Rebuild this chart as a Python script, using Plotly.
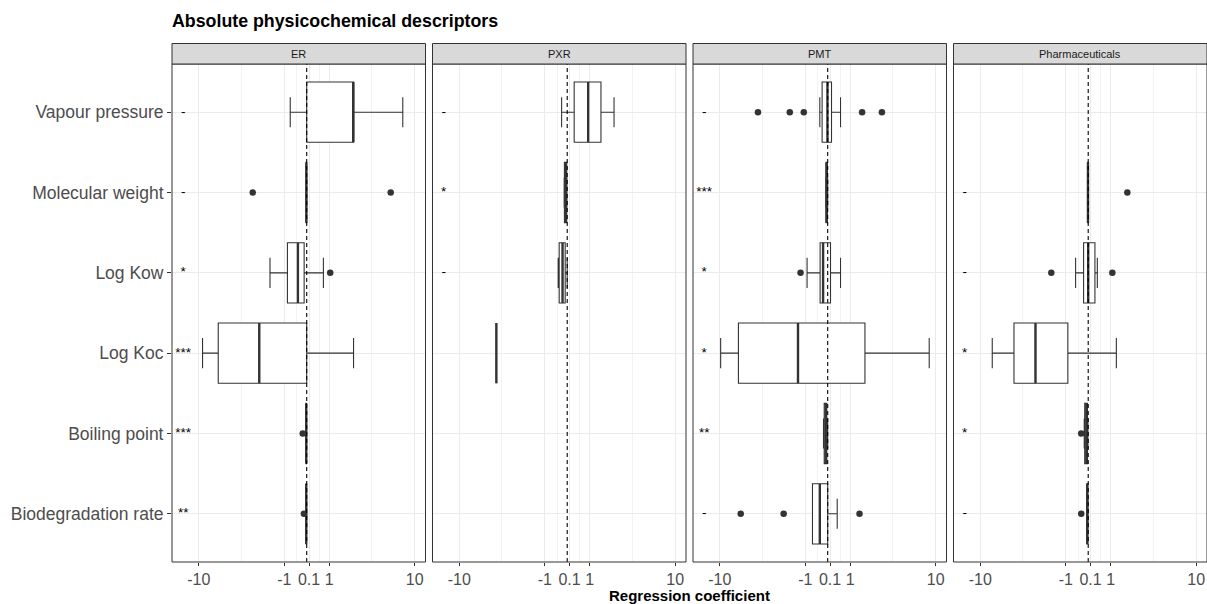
import numpy as np
import plotly.graph_objects as go

# ---------------- data ----------------
descriptors = ["Biodegradation rate", "Boiling point", "Log Koc", "Log Kow",
               "Molecular weight", "Vapour pressure"]          # bottom -> top
panels = ["ER", "PXR", "PMT", "Pharmaceuticals"]

er_lower  = [-0.03, -0.03, -9.2, -1.74, -0.03, -0.72]
er_q1     = [-0.025, -0.03, -6.5, -0.85, -0.025, 0.0]
er_median = [-0.02, -0.02, -2.4, -0.38, -0.015, 2.35]
er_q3     = [-0.01, -0.01, 0.0, -0.11, -0.005, 2.36]
er_upper  = [-0.005, -0.005, 2.36, 0.73, 0.0, 7.7]
er_outlier_desc = ["Biodegradation rate", "Boiling point", "Log Kow",
                   "Molecular weight", "Molecular weight"]
er_outlier_val = [-0.12, -0.17, 1.05, -2.86, 5.88]
er_signif = ["**", "***", "***", "*", "-", "-"]

pxr_lower  = [None, None, -4.34, -0.39, -0.13, -0.24]
pxr_q1     = [None, None, -4.34, -0.345, -0.12, 0.30]
pxr_median = [None, None, -4.34, -0.20, -0.07, 0.93]
pxr_q3     = [None, None, -4.34, -0.086, -0.02, 1.575]
pxr_upper  = [None, None, -4.34, 0.0, -0.01, 2.36]
pxr_outlier_desc = []
pxr_outlier_val = []
pxr_signif = ["", "", "", "-", "*", "-"]

pmt_lower  = [-0.664, -0.18, -9.8, -0.913, -0.08, -0.34]
pmt_q1     = [-0.664, -0.15, -6.62, -0.327, -0.07, -0.24]
pmt_median = [-0.34, -0.09, -1.36, -0.198, -0.05, -0.01]
pmt_q3     = [0.0, -0.04, 1.77, 0.12, -0.01, 0.163]
pmt_upper  = [0.41, 0.0, 8.68, 0.556, 0.0, 0.556]
pmt_outlier_desc = ["Biodegradation rate", "Biodegradation rate", "Biodegradation rate",
                    "Log Kow", "Vapour pressure", "Vapour pressure", "Vapour pressure",
                    "Vapour pressure", "Vapour pressure"]
pmt_outlier_val = [-6.29, -2.18, 1.47, -1.23, -4.23, -1.81, -1.07, 1.61, 2.88]
pmt_signif = ["-", "**", "*", "*", "***", "-"]

ph_lower  = [-0.07, -0.17, -7.68, -0.547, -0.03, None]
ph_q1     = [-0.06, -0.15, -4.70, -0.198, -0.02, None]
ph_median = [-0.04, -0.08, -2.77, 0.0, -0.01, None]
ph_q3     = [-0.02, -0.03, -0.90, 0.289, 0.0, None]
ph_upper  = [-0.01, -0.01, 1.28, 0.393, 0.005, None]
ph_outlier_desc = ["Biodegradation rate", "Boiling point", "Log Kow", "Log Kow",
                   "Molecular weight"]
ph_outlier_val = [-0.30, -0.30, -1.75, 1.08, 1.88]
ph_signif = ["-", "*", "*", "-", "-", ""]

x_breaks = [-10, -1, 0.1, 1, 10]
x_labels = ["-10", "-1", "0.1", "1", "10"]
signif_x = -14

panel_data = [
    (er_lower, er_q1, er_median, er_q3, er_upper, er_outlier_desc, er_outlier_val, er_signif),
    (pxr_lower, pxr_q1, pxr_median, pxr_q3, pxr_upper, pxr_outlier_desc, pxr_outlier_val, pxr_signif),
    (pmt_lower, pmt_q1, pmt_median, pmt_q3, pmt_upper, pmt_outlier_desc, pmt_outlier_val, pmt_signif),
    (ph_lower, ph_q1, ph_median, ph_q3, ph_upper, ph_outlier_desc, ph_outlier_val, ph_signif),
]

# pseudo-log scale (asinh, sigma = 1, base 10) as in ggplot's pseudo_log_trans
def T(v):
    return np.arcsinh(np.asarray(v, dtype=float) / 2.0) / np.log(10)

# ---------------- layout constants ----------------
W, H = 1207, 604
ML, MR, MT, MB = 172, 0, 64, 42
PW = W - ML - MR
PH = H - MT - MB
panel_w, gap = 253.5, 7.0
FONT = "Liberation Sans, Arial, sans-serif"
DARK = "#333333"
BOX_W = 0.75
xrange_t = [-1.253, 1.105]

major_t = T(x_breaks)
minor_t = [(major_t[k] + major_t[k + 1]) / 2 for k in range(len(major_t) - 1)]

fig = go.Figure()
layout = {}
shapes = []
annotations = []

for i, name in enumerate(panels):
    lower, q1, med, q3, upper, o_desc, o_val, sig = panel_data[i]
    xa = "x" if i == 0 else f"x{i + 1}"
    xkey = "xaxis" if i == 0 else f"xaxis{i + 1}"
    d0 = i * (panel_w + gap) / PW
    d1 = (i * (panel_w + gap) + panel_w) / PW
    layout[xkey] = dict(
        domain=[d0, min(d1, 1.0)], range=xrange_t, anchor="y",
        tickmode="array", tickvals=list(major_t), ticktext=x_labels,
        ticks="outside", ticklen=3, tickwidth=1, tickcolor=DARK,
        tickfont=dict(size=16, color="#4d4d4d", family=FONT),
        showgrid=True, gridcolor="#ebebeb", gridwidth=1,
        minor=dict(tickmode="array", tickvals=minor_t, showgrid=True,
                   gridcolor="#f3f3f3", gridwidth=0.6, ticks=""),
        zeroline=False, showline=False, fixedrange=True,
    )

    for j, d in enumerate(descriptors):
        if q1[j] is None:
            continue
        y = j + 1
        fig.add_trace(go.Box(
            orientation="h", y=[y],
            q1=[float(T(q1[j]))], median=[float(T(med[j]))], q3=[float(T(q3[j]))],
            lowerfence=[float(T(lower[j]))], upperfence=[float(T(upper[j]))],
            width=BOX_W, fillcolor="white", boxpoints=False,
            line=dict(color=DARK, width=1.1),
            xaxis=xa, yaxis="y", showlegend=False, hoverinfo="skip",
        ))
        mt = float(T(med[j]))
        fig.add_trace(go.Scatter(
            x=[mt, mt], y=[y - BOX_W / 2, y + BOX_W / 2], mode="lines",
            line=dict(color=DARK, width=2.4), xaxis=xa, yaxis="y",
            showlegend=False, hoverinfo="skip",
        ))

    if o_val:
        fig.add_trace(go.Scatter(
            x=list(T(o_val)), y=[descriptors.index(d) + 1 for d in o_desc],
            mode="markers", marker=dict(size=6.5, color=DARK),
            xaxis=xa, yaxis="y", showlegend=False, hoverinfo="skip",
        ))

    sy = [j + 1 for j, s in enumerate(sig) if s]
    st = [s for s in sig if s]
    fig.add_trace(go.Scatter(
        x=[float(T(signif_x))] * len(sy), y=sy, text=st, mode="text",
        textposition="middle center",
        textfont=dict(size=13.5, color="black", family=FONT),
        xaxis=xa, yaxis="y", showlegend=False, hoverinfo="skip",
    ))

    xdom = f"{xa} domain"
    # dashed zero line
    shapes.append(dict(type="line", xref=xa, yref="y domain", x0=0, x1=0, y0=0, y1=1,
                       line=dict(color="black", width=1.1, dash="4px,3px"), layer="above"))
    # panel border
    shapes.append(dict(type="rect", xref=xdom, yref="y domain", x0=0, x1=1, y0=0, y1=1,
                       line=dict(color=DARK, width=1), fillcolor="rgba(0,0,0,0)", layer="above"))
    # strip
    strip_h = 20.5 / PH
    shapes.append(dict(type="rect", xref=xdom, yref="y domain", x0=0, x1=1, y0=1, y1=1 + strip_h,
                       line=dict(color=DARK, width=1), fillcolor="#d9d9d9", layer="above"))
    annotations.append(dict(text=name, xref=xdom, yref="y domain", x=0.5, y=1 + strip_h / 2,
                            showarrow=False, xanchor="center", yanchor="middle",
                            font=dict(size=11, color="#1a1a1a", family=FONT)))

annotations.append(dict(text="<b>Regression coefficient</b>", xref="paper", yref="paper",
                        x=0.5, y=-(595.5 - (H - MB)) / PH, showarrow=False,
                        xanchor="center", yanchor="middle",
                        font=dict(size=15, color="black", family=FONT)))

fig.update_layout(
    width=W, height=H,
    margin=dict(l=ML, r=MR, t=MT, b=MB),
    paper_bgcolor="white", plot_bgcolor="white",
    font=dict(family=FONT),
    title=dict(text="<b>Absolute physicochemical descriptors</b>",
               x=ML / W, xanchor="left", xref="container",
               y=1 - 21 / H, yanchor="middle", yref="container",
               font=dict(size=17.8, color="black", family=FONT)),
    yaxis=dict(domain=[0, 1], range=[0.4, 6.6], anchor="x",
               tickmode="array", tickvals=list(range(1, len(descriptors) + 1)),
               ticktext=descriptors, ticks="outside", ticklen=4, tickwidth=1,
               tickcolor=DARK, tickfont=dict(size=17.5, color="#4d4d4d", family=FONT),
               showgrid=True, gridcolor="#ebebeb", gridwidth=1,
               zeroline=False, showline=False, fixedrange=True),
    shapes=shapes, annotations=annotations, showlegend=False,
    boxmode="overlay",
    **layout,
)

fig.write_html("out.html", config={"displayModeBar": False},
               post_script="document.body.style.margin='0px';document.body.style.overflow='hidden';")
